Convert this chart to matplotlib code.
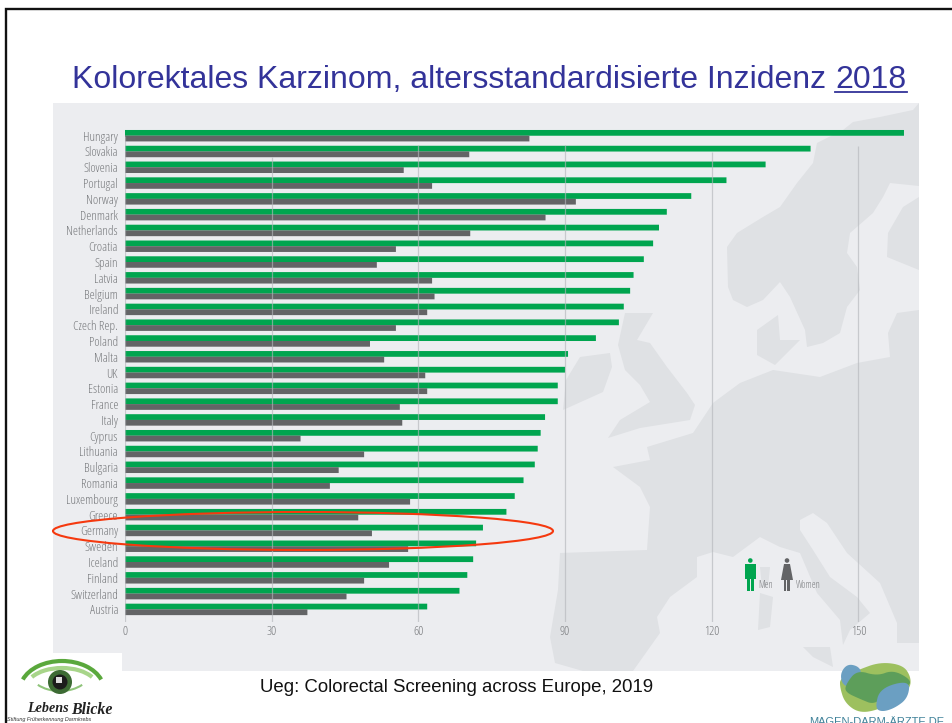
import numpy as np
import matplotlib
matplotlib.use("Agg")
import matplotlib.pyplot as plt
from matplotlib import font_manager
from matplotlib.font_manager import FontProperties
from matplotlib.patches import Ellipse, Polygon, Rectangle, Circle, Arc
from matplotlib.textpath import TextPath

countries = ["Hungary", "Slovakia", "Slovenia", "Portugal", "Norway", "Denmark", "Netherlands", "Croatia",
             "Spain", "Latvia", "Belgium", "Ireland", "Czech Rep.", "Poland", "Malta", "UK", "Estonia",
             "France", "Italy", "Cyprus", "Lithuania", "Bulgaria", "Romania", "Luxembourg", "Greece",
             "Germany", "Sweden", "Iceland", "Finland", "Switzerland", "Austria"]
men = [159.3, 140.2, 131.0, 123.0, 115.8, 110.8, 109.2, 108.0, 106.1, 104.0, 103.3, 102.0, 101.0, 96.3,
       90.6, 90.0, 88.5, 88.5, 85.9, 85.0, 84.4, 83.8, 81.5, 79.7, 78.0, 73.2, 71.8, 71.2, 70.0, 68.4, 61.8]
women = [82.7, 70.4, 57.0, 62.8, 92.2, 86.0, 70.6, 55.4, 51.5, 62.8, 63.3, 61.8, 55.4, 50.1,
         53.0, 61.4, 61.8, 56.2, 56.7, 35.9, 48.9, 43.7, 41.9, 58.3, 47.7, 50.5, 57.9, 54.0, 48.9, 45.3, 37.3]
x_ticks = [0, 30, 60, 90, 120, 150]
# row index where each grid line starts
grid_top = [0.0, 1.35, 0.6, 0.6, 1.03, 0.65]

WIDTH, HEIGHT = 953, 723
GREEN = "#00a54f"
GREY = "#636466"
LABEL = "#77797c"
SEA = "#ecedf0"
LAND = "#dfe1e4"
label_size = 9.3


def narrowest_font():
    # the labels are set in a condensed face, take the closest one installed
    names = {f.name for f in font_manager.fontManager.ttflist}
    best, best_width = None, None
    for family in ["Liberation Sans Narrow", "Roboto Condensed", "Open Sans Condensed", "Noto Sans Condensed",
                   "DejaVu Sans", "Lato", "Roboto", "Noto Sans", "Open Sans"]:
        if family not in names:
            continue
        for stretch in ["condensed", "normal"]:
            prop = FontProperties(family=family, stretch=stretch)
            width = TextPath((0, 0), "Hungary", size=10, prop=prop).get_extents().width
            if best_width is None or width < best_width:
                best, best_width = prop, width
    return best


narrow = narrowest_font()


def smooth(points, rounds=3):
    # corner cutting, for the logo blobs
    pts = np.array(points, dtype=float)
    for _ in range(rounds):
        nxt = np.roll(pts, -1, axis=0)
        pts = np.column_stack([0.75 * pts + 0.25 * nxt, 0.25 * pts + 0.75 * nxt]).reshape(-1, 2)
    return pts


def pixel_axes(zorder):
    ax = fig.add_axes([0, 0, 1, 1], zorder=zorder)
    ax.set_xlim(0, WIDTH)
    ax.set_ylim(HEIGHT, 0)
    ax.axis("off")
    return ax


fig = plt.figure(figsize=(WIDTH / 100, HEIGHT / 100), dpi=100, facecolor="white")

# background panel with the map
bg = pixel_axes(0)
bg.add_patch(Rectangle((53, 103), 866, 568, fc=SEA, ec="none"))
land = [
    [(919, 103), (913, 110), (880, 117), (853, 122), (843, 130), (817, 143), (813, 163), (797, 183), (780, 207),
     (763, 217), (737, 233), (727, 247), (728, 287), (733, 300), (747, 307), (763, 300), (780, 282), (790, 297),
     (805, 330), (807, 347), (823, 343), (840, 333), (847, 307), (860, 290), (857, 267), (847, 253), (850, 233),
     (873, 213), (883, 197), (890, 183), (919, 186)],
    [(919, 197), (903, 207), (888, 233), (887, 257), (919, 270)],
    [(919, 310), (897, 313), (888, 333), (890, 357), (857, 363), (820, 377), (773, 370), (740, 383), (717, 400),
     (713, 403), (693, 433), (647, 447), (650, 460), (613, 467), (640, 487), (650, 507), (647, 550), (560, 553),
     (558, 590), (550, 637), (555, 663), (583, 671), (633, 671), (660, 633), (657, 617), (670, 597), (697, 577),
     (697, 557), (713, 552), (733, 557), (760, 537), (780, 547), (800, 553), (817, 593), (840, 620), (843, 645),
     (850, 630), (870, 613), (857, 597), (830, 577), (813, 550), (800, 530), (800, 520), (813, 513), (827, 523),
     (847, 553), (880, 583), (897, 623), (913, 640), (919, 643)],
    [(625, 313), (653, 313), (637, 340), (650, 343), (667, 367), (687, 393), (695, 405), (690, 420), (640, 428),
     (608, 438), (620, 420), (650, 402), (640, 385), (625, 370), (618, 345)],
    [(580, 357), (610, 353), (612, 367), (603, 392), (563, 410), (566, 380)],
    [(760, 593), (773, 597), (770, 627), (758, 630)],
    [(760, 567), (770, 567), (768, 587), (762, 587)],
    [(803, 647), (830, 647), (833, 667), (813, 657)],
    [(757, 330), (778, 315), (780, 340), (800, 340), (775, 365), (757, 355)],
]
for shape in land:
    bg.add_patch(Polygon(shape, closed=True, fc=LAND, ec="none"))
# right edge of the mainland polygon
bg.add_patch(Rectangle((897, 313), 22, 330, fc=LAND, ec="none"))

# the chart itself, 4.89 px per unit, 15.79 px per row
left, right, top, bottom = 125, 919, 103, 622
ax = fig.add_axes([left / WIDTH, 1 - bottom / HEIGHT, (right - left) / WIDTH, (bottom - top) / HEIGHT], zorder=1)
ax.patch.set_visible(False)
ax.set_xlim(0, (right - left) / 4.89)
ax.set_ylim((bottom - 135.7) / 15.79, (top - 135.7) / 15.79)

rows = np.arange(len(countries))
ax.barh(rows - 0.18, men, height=0.365, color=GREEN, zorder=2, snap=False)
ax.barh(rows + 0.18, women, height=0.365, color=GREY, zorder=2, snap=False)
ax.vlines(x_ticks, grid_top, ax.get_ylim()[0], color="#b4b7bb", alpha=0.65, lw=0.9, zorder=3)

ax.set_yticks(rows, countries)
ax.set_xticks(x_ticks, [str(t) for t in x_ticks])
ax.tick_params(axis="both", length=0, labelcolor=LABEL)
ax.tick_params(axis="y", pad=5)
ax.tick_params(axis="x", pad=2)
for lab in ax.get_xticklabels() + ax.get_yticklabels():
    lab.set_fontproperties(narrow)
    lab.set_fontsize(label_size)
for spine in ax.spines.values():
    spine.set_visible(False)

# everything laid over the chart
top_ax = pixel_axes(2)
top_ax.add_patch(Ellipse((303, 531), 500, 38, fc="none", ec="#f5390f", lw=1.5))

# men / women icons
top_ax.add_patch(Circle((750.3, 560.5), 2.3, fc=GREEN, ec="none"))
top_ax.add_patch(Rectangle((745.5, 564), 10.5, 15, fc=GREEN, ec="none"))
top_ax.add_patch(Rectangle((747.3, 577), 3, 14, fc=GREEN, ec="none"))
top_ax.add_patch(Rectangle((751, 577), 3, 14, fc=GREEN, ec="none"))
top_ax.add_patch(Circle((787, 560.5), 2.3, fc=GREY, ec="none"))
top_ax.add_patch(Polygon([(784, 564), (790, 564), (793, 580), (781, 580)], closed=True, fc=GREY, ec="none"))
top_ax.add_patch(Rectangle((784, 579), 2.5, 12, fc=GREY, ec="none"))
top_ax.add_patch(Rectangle((787.5, 579), 2.5, 12, fc=GREY, ec="none"))
top_ax.text(758, 585.5, "Men", fontproperties=narrow, size=7, color=LABEL, va="center")
top_ax.text(796, 585.5, "Women", fontproperties=narrow, size=7, color=LABEL, va="center")

# white corner under the left logo, then slide frame
top_ax.add_patch(Rectangle((0, 653), 122, 70, fc="white", ec="none"))
top_ax.plot([6, 6, WIDTH], [HEIGHT, 9, 9], color="#111111", lw=1.7, solid_joinstyle="miter")

# heading, 2018 is underlined
top_ax.text(72, 88, "Kolorektales Karzinom, altersstandardisierte Inzidenz", family="Liberation Sans",
            size=23, color="#333399", va="baseline")
top_ax.text(835, 88, "2018", family="Liberation Sans", size=23, color="#333399", va="baseline")
top_ax.plot([835, 907], [92, 92], color="#333399", lw=1.3)
top_ax.text(260, 687, "Ueg: Colorectal Screening across Europe, 2019", family="Liberation Sans", size=13.4,
            color="#111111", va="center")

# left logo
top_ax.add_patch(Arc((62, 690), 84, 58, theta1=195, theta2=345, ec="#5aa83c", lw=3))
top_ax.add_patch(Arc((62, 688), 72, 40, theta1=200, theta2=340, ec="#a8d58a", lw=3))
top_ax.add_patch(Arc((60, 672), 60, 38, theta1=30, theta2=150, ec="#8fc47a", lw=1.5))
top_ax.add_patch(Circle((60, 682), 12, fc="#3d6b34", ec="none"))
top_ax.add_patch(Circle((60, 682), 7.5, fc="#1c1c1c", ec="none"))
top_ax.add_patch(Rectangle((56, 677), 6, 6, fc="#dddddd", ec="none"))
top_ax.text(27, 712, "Lebens", family="Liberation Serif", weight="bold", style="italic", size=10.2, color="#222222")
top_ax.text(71, 714, "Blicke", family="Liberation Serif", weight="bold", style="italic", size=11.4, color="#222222")
top_ax.text(7, 721, "Stiftung Früherkennung Darmkrebs", family="Liberation Sans", style="italic", size=3.9,
            color="#333333")

# right logo
blobs = [
    ("#9dc05f", [(840, 678), (858, 670), (880, 662), (903, 665), (911, 677), (910, 689), (895, 700), (878, 710),
                 (859, 713), (845, 703), (840, 688)]),
    ("#6b9fc2", [(840, 674), (847, 664), (858, 666), (862, 673), (856, 688), (843, 686)]),
    ("#5d9e5a", [(846, 684), (857, 670), (877, 676), (893, 670), (910, 679), (910, 686), (888, 691), (875, 705),
                 (860, 699), (845, 692)]),
    ("#6b9fc2", [(875, 708), (880, 688), (910, 680), (908, 698), (895, 708), (882, 712)]),
]
for colour, outline in blobs:
    top_ax.add_patch(Polygon(smooth(outline), closed=True, fc=colour, ec="none"))
top_ax.text(809, 725, "MAGEN-DARM-ÄRZTE.DE", family="Liberation Sans", size=8, color="#3f8199", va="baseline",
            clip_on=False)

plt.savefig("out.png", dpi=100)
plt.close(fig)
